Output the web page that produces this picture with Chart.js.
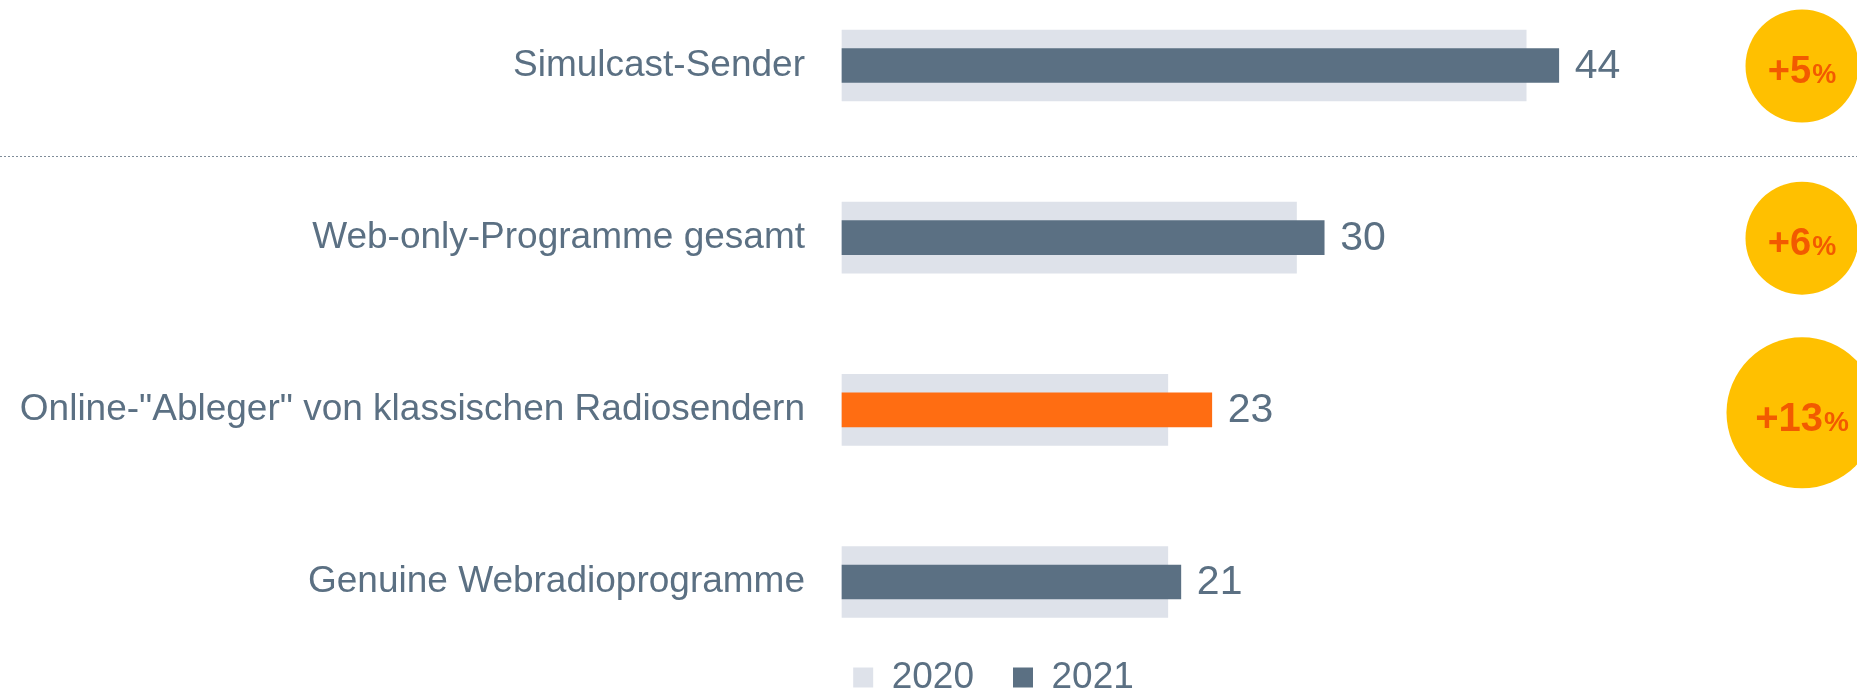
<!DOCTYPE html>
<html lang="de">
<head>
<meta charset="utf-8">
<title>Webradio – Programmarten</title>
<script src="https://cdn.jsdelivr.net/npm/chart.js@4/dist/chart.umd.min.js"></script>
<style>
  html, body { margin: 0; padding: 0; background: #fff; overflow: hidden; }
  #wrap { width: 1857px; height: 706px; }
</style>
</head>
<body>
<div id="wrap"><canvas id="chart" width="1857" height="706"></canvas></div>
<script>
// data
const categories = [
  'Simulcast-Sender',
  'Web-only-Programme gesamt',
  'Online-"Ableger" von klassischen Radiosendern',
  'Genuine Webradioprogramme'
];
const seriesNames = ['2020', '2021'];
const values2020 = [42, 27.9, 20, 20];
const values2021 = [44, 29.6, 22.7, 20.8];
const changeLabels = ['+5', '+6', '+13', null];
const highlightIndex = 2;

const FONT = '"Liberation Sans", Arial, sans-serif';
const SLATE = '#5b7083';
const LIGHT = '#dee2ea';
const ORANGE = '#ff6d12';

// the legend sits a bit right of the page centre, under the bars
const legendShift = {
  id: 'legendShift',
  afterLayout(chart) {
    if (chart.legend) chart.legend.left = 135;
  }
};

// dotted separator between first and second row
const separator = {
  id: 'separator',
  beforeDatasetsDraw(chart) {
    const y = chart.scales.y;
    const yy = Math.round((y.getPixelForTick(0) + y.getPixelForTick(1)) / 2 + 4) + 0.5;
    const c = chart.ctx;
    c.save();
    c.strokeStyle = '#7f8c99';
    c.lineWidth = 1;
    c.setLineDash([2, 2]);
    c.beginPath();
    c.moveTo(0, yy);
    c.lineTo(chart.width, yy);
    c.stroke();
    c.restore();
  }
};

// numbers at the end of the 2021 bars
const valueLabels = {
  id: 'valueLabels',
  afterDatasetsDraw(chart) {
    const meta = chart.getDatasetMeta(0);
    const c = chart.ctx;
    c.save();
    c.font = '41px ' + FONT;
    c.fillStyle = SLATE;
    c.textAlign = 'left';
    c.textBaseline = 'middle';
    meta.data.forEach((bar, i) => {
      c.fillText(String(Math.round(values2021[i])), bar.x + 16, bar.y + 1);
    });
    c.restore();
  }
};

// yellow circles with the change in percent
const changeBubbles = {
  id: 'changeBubbles',
  afterDraw(chart) {
    const c = chart.ctx;
    const y = chart.scales.y;
    const cx = chart.chartArea.right - 50;
    changeLabels.forEach((txt, i) => {
      if (!txt) return;
      const big = i === highlightIndex;
      const r = big ? 75.5 : 56.5;
      const cy = y.getPixelForTick(i) + (big ? 3 : 0.5);
      c.save();
      c.beginPath();
      c.arc(cx, cy, r, 0, Math.PI * 2);
      c.fillStyle = '#ffc000';
      c.fill();
      const f1 = 'bold ' + (big ? 40 : 38) + 'px ' + FONT;
      const f2 = 'bold ' + (big ? 28 : 27) + 'px ' + FONT;
      c.font = f1;
      const w1 = c.measureText(txt).width;
      c.font = f2;
      const w2 = c.measureText('%').width;
      const x0 = cx - (w1 + w2 + 1) / 2;
      const base = cy + (big ? 18 : 17);
      c.fillStyle = '#f25a00';
      c.textAlign = 'left';
      c.textBaseline = 'alphabetic';
      c.font = f1;
      c.fillText(txt, x0, base);
      c.font = f2;
      c.fillText('%', x0 + w1 + 1, base);
      c.restore();
    });
  }
};

Chart.defaults.font.family = FONT;

new Chart(document.getElementById('chart'), {
  type: 'bar',
  data: {
    labels: categories,
    datasets: [
      {
        label: seriesNames[1],
        data: values2021,
        backgroundColor: values2021.map((_, i) => i === highlightIndex ? ORANGE : SLATE),
        barThickness: 34,
        grouped: false,
        clip: false
      },
      {
        label: seriesNames[0],
        data: values2020,
        backgroundColor: LIGHT,
        barThickness: 71,
        grouped: false,
        clip: false
      }
    ]
  },
  options: {
    indexAxis: 'y',
    responsive: false,
    animation: false,
    events: [],
    layout: { padding: { top: 65.5, left: 5, right: 5, bottom: 0 } },
    scales: {
      x: {
        min: 0,
        max: 62,
        grid: { display: false, drawTicks: false },
        border: { display: false },
        ticks: { display: false },
        afterFit: s => { s.height = 38; }
      },
      y: {
        offset: false,
        grid: { display: false, drawTicks: false },
        border: { display: false },
        ticks: { color: SLATE, font: { size: 37 }, padding: 37 },
        afterFit: s => { s.width = 837; }
      }
    },
    plugins: {
      legend: {
        position: 'bottom',
        reverse: true,
        labels: {
          color: SLATE,
          font: { size: 37 },
          boxWidth: 20,
          boxHeight: 20,
          padding: 39
        }
      },
      tooltip: { enabled: false }
    }
  },
  plugins: [legendShift, separator, valueLabels, changeBubbles]
});
</script>
</body>
</html>
